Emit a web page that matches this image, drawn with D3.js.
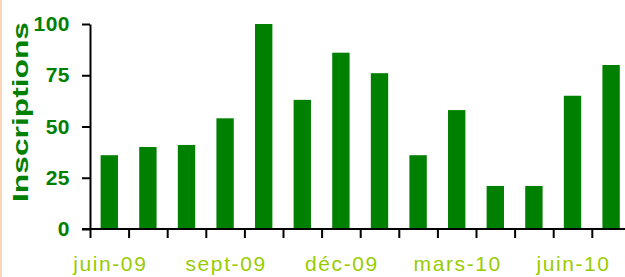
<!DOCTYPE html>
<html>
<head>
<meta charset="utf-8">
<script src="https://cdn.jsdelivr.net/npm/d3@7"></script>
<style>
  html, body { margin: 0; padding: 0; background: #fff; }
  svg { display: block; }
</style>
</head>
<body>
<svg id="chart" width="625" height="277"></svg>
<script>
const months = ["juin-09", "juil-09", "août-09", "sept-09", "oct-09", "nov-09", "déc-09",
  "janv-10", "févr-10", "mars-10", "avr-10", "mai-10", "juin-10", "juil-10"]
const inscriptions = [36, 40, 41, 54, 100, 63, 86, 76, 36, 58, 21, 21, 65, 80]
const yTicks = [0, 25, 50, 75, 100]
const xLabels = ["juin-09", "sept-09", "déc-09", "mars-10", "juin-10"]

const svg = d3.select("#chart")
const font = "'Liberation Sans', Arial, sans-serif"

// petite bordure à gauche
svg.append("rect")
  .attr("x", 0).attr("y", 0)
  .attr("width", 2).attr("height", 277)
  .style("fill", "#fcd5b8")

const x = d3.scaleBand().domain(months).range([90, 630.4]).paddingInner(0.55).paddingOuter(0.275)
const edges = d3.scaleLinear().domain([0, months.length]).range([90, 630.4])
const y = d3.scaleLinear().domain([0, 100]).range([229, 24])

/* Barres
-------------------------------------------------------------------------------------------------*/
svg.append("g")
  .selectAll("rect")
  .data(inscriptions)
  .enter()
  .append("rect")
  .attr("x", (d, i) => x(months[i]))
  .attr("width", x.bandwidth())
  .attr("y", d => y(d))
  .attr("height", d => y(0) - y(d))
  .style("fill", "#008000")

/* Axes
-------------------------------------------------------------------------------------------------*/

// Abscisse : graduations entre les mois
const xAxis = svg.append("g")
  .attr("transform", "translate(0,229)")
  .call(d3.axisBottom(edges).tickValues(d3.range(months.length + 1)).tickSize(9).tickFormat(""))
xAxis.select(".domain").remove()
xAxis.selectAll("line").style("stroke", "#000").style("stroke-width", 2)

svg.append("line")
  .attr("x1", 82).attr("x2", 625)
  .attr("y1", 229).attr("y2", 229)
  .style("stroke", "#000")
  .style("stroke-width", 2)

// libellés des mois
svg.append("g")
  .selectAll("text")
  .data(xLabels)
  .enter()
  .append("text")
  .attr("x", d => x(d) + x.bandwidth() / 2 + 1)
  .attr("y", 271)
  .style("text-anchor", "middle")
  .style("font-family", font)
  .style("font-size", "21px")
  .style("letter-spacing", "1.6px")
  .style("fill", "#99cc00")
  .text(d => d)

// Ordonnée
const yAxis = svg.append("g")
  .attr("transform", "translate(90,0)")
  .call(d3.axisLeft(y).tickValues(yTicks).tickSize(8).tickSizeOuter(0))
yAxis.select(".domain").style("stroke", "#000").style("stroke-width", 2)
yAxis.selectAll("line").style("stroke", "#000").style("stroke-width", 2)
yAxis.selectAll("text")
  .attr("x", -20)
  .style("font-family", font)
  .style("font-size", "21px")
  .style("font-weight", "bold")
  .style("letter-spacing", "0.5px")
  .style("fill", "#008000")

// titre de l'axe
svg.append("text")
  .attr("transform", "translate(28,112) rotate(-90)")
  .attr("textLength", 180)
  .attr("lengthAdjust", "spacingAndGlyphs")
  .style("text-anchor", "middle")
  .style("font-family", font)
  .style("font-size", "22px")
  .style("font-weight", "bold")
  .style("fill", "#008000")
  .text("Inscriptions")
</script>
</body>
</html>
